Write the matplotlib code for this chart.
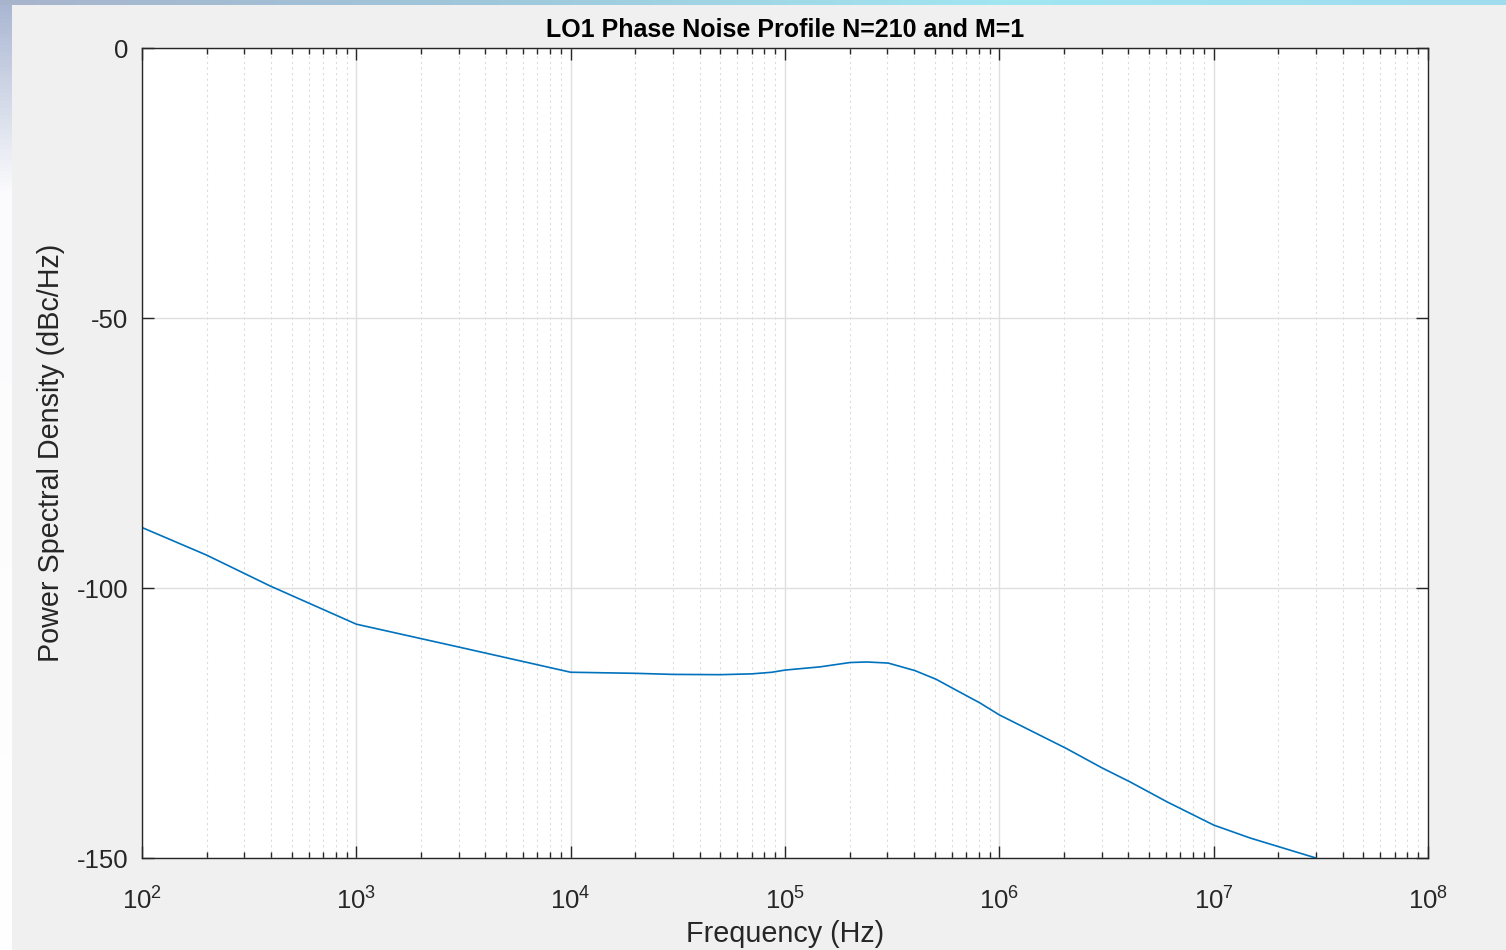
import numpy as np
import matplotlib
matplotlib.use('Agg')
import matplotlib.pyplot as plt
from matplotlib.colors import LinearSegmentedColormap
from matplotlib.ticker import FixedLocator, FuncFormatter, NullFormatter

# phase noise profile
freq_hz = [1e2, 2e2, 3.95e2, 1e3, 2.98e3, 1e4, 2e4, 3e4, 5e4, 7e4, 8.7e4, 1e5,
           1.46e5, 2.01e5, 2.41e5, 3.03e5, 4.04e5, 5.07e5, 6.08e5, 8.13e5,
           1e6, 2.05e6, 3.01e6, 4.07e6, 6.06e6, 1e7, 1.48e7, 3e7]
psd_dbc = [-88.8, -93.9, -99.6, -106.7, -110.9, -115.6, -115.8, -116.0, -116.05,
           -115.9, -115.6, -115.2, -114.6, -113.8, -113.7, -113.9, -115.3, -116.9,
           -118.6, -121.3, -123.5, -129.7, -133.3, -135.9, -139.6, -143.9, -146.3,
           -150.0]

y_ticks = [-150, -100, -50, 0]
x_decades = [2, 3, 4, 5, 6, 7, 8]

plt.rcParams['font.family'] = ['Liberation Sans', 'DejaVu Sans']
plt.rcParams['mathtext.fontset'] = 'custom'
plt.rcParams['mathtext.rm'] = 'Liberation Sans'
plt.rcParams['axes.unicode_minus'] = False

fg = '#262626'
fig = plt.figure(figsize=(15.06, 9.5), dpi=100, facecolor='#f0f0f0')

# screenshot edges (window border bits)
edge_cmap = LinearSegmentedColormap.from_list(
    'edge', [(0, '#a9b6d2'), (0.2, '#fbfbfd'), (1, '#ffffff')])
left_img = np.repeat(np.linspace(0, 1, 950).reshape(-1, 1), 12, axis=1)
fig.figimage(edge_cmap(left_img), xo=0, yo=0, origin='upper')
top_cmap = LinearSegmentedColormap.from_list('top', ['#a8b4cc', '#9fc8dc', '#a2e6f2', '#9fdcee'])
top_img = np.repeat(np.linspace(0, 1, 1506).reshape(1, -1), 5, axis=0)
fig.figimage(top_cmap(top_img), xo=0, yo=945, origin='upper')

ax = fig.add_axes([142 / 1506, 1 - 858 / 950, 1286 / 1506, 810 / 950])
ax.set_facecolor('white')
ax.semilogx(freq_hz, psd_dbc, color='#0072BD', linewidth=1.2)

major_x = [10.0 ** d for d in x_decades]
minor_x = [k * 10.0 ** d for d in x_decades[:-1] for k in range(2, 10)]
ax.set_xlim(major_x[0], major_x[-1])
ax.set_ylim(-150, 0)
ax.yaxis.set_major_locator(FixedLocator(y_ticks))
ax.xaxis.set_major_locator(FixedLocator(major_x))
ax.xaxis.set_minor_locator(FixedLocator(minor_x))
ax.xaxis.set_minor_formatter(NullFormatter())
ax.xaxis.set_major_formatter(FuncFormatter(
    lambda v, p: r'$\mathregular{10^{%d}}$' % round(np.log10(v))))

ax.grid(True, which='major', color='#dfdfdf', linewidth=1.0)
ax.grid(True, which='minor', axis='x', color='#dcdcdc', linewidth=0.8, linestyle=(0, (2, 3)))
ax.set_axisbelow(True)

for s in ax.spines.values():
    s.set_color(fg)
    s.set_linewidth(1.0)
ax.tick_params(which='both', direction='in', top=True, right=True, colors=fg,
               labelsize=18.5, width=1.0)
ax.tick_params(which='major', length=8.5)
ax.tick_params(which='minor', length=4.3)
ax.tick_params(axis='x', pad=21)
ax.tick_params(axis='y', pad=10)

ax.set_title('LO1 Phase Noise Profile N=210 and M=1', fontsize=18,
             fontweight='bold', color='black', pad=8)
ax.set_xlabel('Frequency (Hz)', fontsize=20.7, color=fg, labelpad=4)
ax.set_ylabel('Power Spectral Density (dBc/Hz)', fontsize=20.7, color=fg, labelpad=8)

fig.savefig('out.png', dpi=100, facecolor=fig.get_facecolor())
